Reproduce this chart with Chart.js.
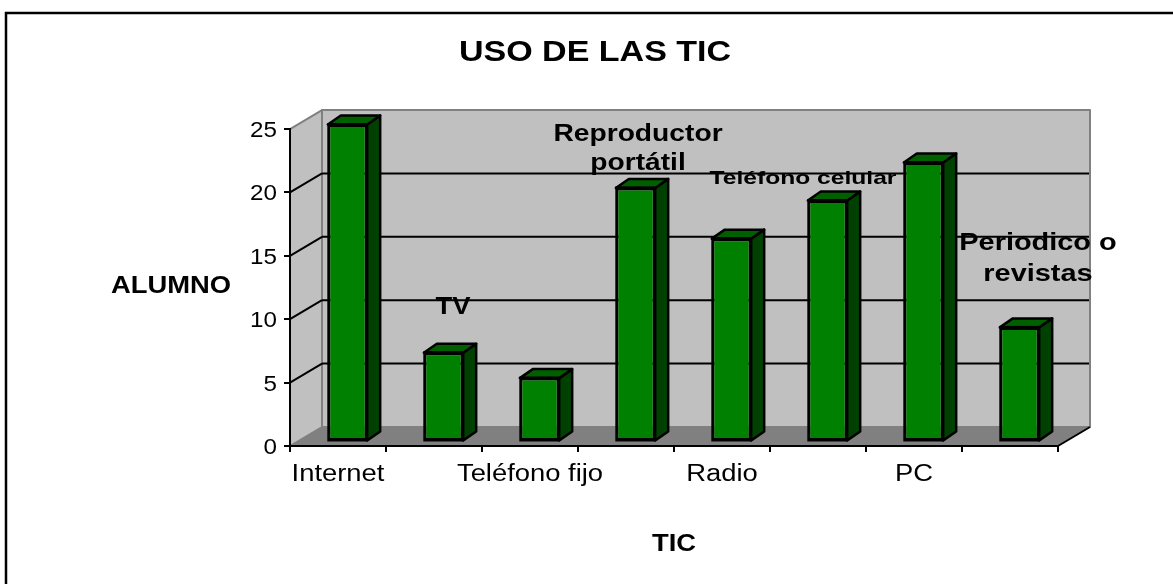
<!DOCTYPE html>
<html><head><meta charset="utf-8">
<style>html,body{margin:0;padding:0;background:#fff}#w{width:1173px;height:584px;position:relative}canvas{display:block}</style>
<script src="https://cdn.jsdelivr.net/npm/chart.js@4"></script>
</head><body><div id="w"><canvas id="c" width="1173" height="584"></canvas></div>
<script>
const categories=["Internet","TV","Teléfono fijo","Reproductor portátil","Radio","Teléfono celular","PC","Periodico o revistas"];
const values=[25,7,5,20,16,19,22,9];
const yTicks=[0,5,10,15,20,25];
const chartTitle="USO DE LAS TIC";
const yTitle="ALUMNO";
const xTitle="TIC";
const FONT='"Liberation Sans", Arial, sans-serif';
const DEPTH_X=32, DEPTH_Y=19, BAR_DX=9.5, BAR_DY=4.5, BAR_SIDE_X=13, BAR_SIDE_Y=9;
let stretch=1.19;

const canvas=document.getElementById('c');
const ctx0=canvas.getContext('2d');
// The reference's text is horizontally stretched; reproduce it for all text.
const rawFill=ctx0.fillText.bind(ctx0);
ctx0.fillText=function(t,x,y,m){
  const digits=/^\d+$/.test(String(t));
  ctx0.save();ctx0.translate(x,y+(digits?2:0));ctx0.scale(digits?1.1:stretch,1);rawFill(t,0,0);ctx0.restore();
};

function line(c,x1,y1,x2,y2){c.beginPath();c.moveTo(x1,y1);c.lineTo(x2,y2);c.stroke();}
function poly(c,pts,fill,stroke,w){c.beginPath();pts.forEach((p,i)=>i?c.lineTo(p[0],p[1]):c.moveTo(p[0],p[1]));c.closePath();c.fillStyle=fill;c.fill();if(stroke){c.strokeStyle=stroke;c.lineWidth=w;c.lineJoin='round';c.stroke();}}

const scene={id:'scene',
 beforeDraw(ch){
  const c=ch.ctx,a=ch.chartArea,y=ch.scales.y;
  c.save();
  c.fillStyle='#fff';c.fillRect(0,0,ch.width,ch.height);
  c.strokeStyle='#000';c.lineWidth=2.5;
  c.beginPath();c.moveTo(6,584);c.lineTo(6,13);c.lineTo(1173,13);c.stroke();
  const L=a.left,R=a.right,T=a.top,B=a.bottom;
  poly(c,[[L+DEPTH_X,T-DEPTH_Y],[R+DEPTH_X,T-DEPTH_Y],[R+DEPTH_X,B-DEPTH_Y],[L+DEPTH_X,B-DEPTH_Y]],'#c0c0c0','#808080',2);
  poly(c,[[L,T],[L+DEPTH_X,T-DEPTH_Y],[L+DEPTH_X,B-DEPTH_Y],[L,B]],'#c0c0c0','#808080',2);
  poly(c,[[L,B],[L+DEPTH_X,B-DEPTH_Y],[R+DEPTH_X,B-DEPTH_Y],[R,B]],'#808080',null,0);
  c.strokeStyle='#000';c.lineWidth=2;
  line(c,R,B,R+DEPTH_X,B-DEPTH_Y);
  yTicks.filter(v=>v>0&&v<25).forEach(v=>{
    const p=y.getPixelForValue(v);
    line(c,L,p,L+DEPTH_X,p-DEPTH_Y);line(c,L+DEPTH_X,p-DEPTH_Y,R+DEPTH_X-1,p-DEPTH_Y);
  });
  c.restore();
 },
 beforeDatasetsDraw(ch){
  const c=ch.ctx,m=ch.getDatasetMeta(0);
  c.save();
  m.data.forEach(b=>{
    const hw=b.width/2,l=b.x-hw+BAR_DX,r=b.x+hw+BAR_DX,t=b.y-BAR_DY,bt=b.base-BAR_DY;
    poly(c,[[r,t],[r+BAR_SIDE_X,t-BAR_SIDE_Y],[r+BAR_SIDE_X,bt-BAR_SIDE_Y],[r,bt]],'#004000','#000',2.5);
    poly(c,[[l,t],[l+BAR_SIDE_X,t-BAR_SIDE_Y],[r+BAR_SIDE_X,t-BAR_SIDE_Y],[r,t]],'#006000','#000',2.5);
  });
  c.restore();
  c.save();c.translate(BAR_DX,-BAR_DY);
 },
 afterDatasetsDraw(ch){
  ch.ctx.restore();
  const c=ch.ctx,x=ch.scales.x,y=ch.scales.y;
  c.save();
  c.strokeStyle='#000';c.lineWidth=2;
  ch.getDatasetMeta(0).data.forEach(b=>{
    c.strokeRect(b.x-b.width/2+BAR_DX+0.5,b.y-BAR_DY-0.5,b.width-1,b.base-b.y+0.5);
  });
  c.fillStyle='#000';c.textAlign='center';c.textBaseline='middle';
  const put=(t,px,py,size,s)=>{c.font='bold '+size+'px '+FONT;stretch=s||1.19;c.fillText(t,px,py+2);stretch=1.19;};
  put('TV',x.getPixelForValue(1)+19,y.getPixelForValue(11.1),23);
  put('Reproductor',x.getPixelForValue(3)+12,y.getPixelForValue(24.7),23.5,1.2);
  put('portátil',x.getPixelForValue(3)+12,y.getPixelForValue(22.4),23.5,1.2);
  put('Teléfono celular',x.getPixelForValue(5)-15,y.getPixelForValue(21.25),18.5,1.33);
  put('Periodico o',x.getPixelForValue(7)+28,y.getPixelForValue(16.1),23.5,1.23);
  put('revistas',x.getPixelForValue(7)+28,y.getPixelForValue(13.7),23.5,1.23);
  put(yTitle,171,285,23);
  c.restore();
 }
};

new Chart(canvas,{
 type:'bar',
 data:{labels:categories,datasets:[{label:'ALUMNO',data:values,backgroundColor:'#008000',borderColor:'#000',borderWidth:2.5,borderSkipped:false,barPercentage:0.41,categoryPercentage:1}]},
 options:{
  responsive:false,animation:false,devicePixelRatio:1,
  layout:{padding:{left:132,right:115,top:0,bottom:0}},
  plugins:{legend:{display:false},tooltip:{enabled:false},
   title:{display:true,text:chartTitle,color:'#000',font:{family:FONT,size:28.6,weight:'bold',lineHeight:1.2},padding:{top:36,bottom:58.7}}},
  scales:{
   x:{afterFit(s){s.height=138;},
      grid:{display:true,offset:true,drawOnChartArea:false,color:'#000',lineWidth:2,tickLength:6},
      border:{display:true,color:'#000',width:2},
      ticks:{autoSkip:false,maxRotation:0,minRotation:0,padding:9,color:'#000',font:{family:FONT,size:23},callback(v,i){return i%2===0?categories[i]:'';}},
      title:{display:true,text:xTitle,color:'#000',font:{family:FONT,size:23,weight:'bold'},padding:{top:12,bottom:26}}},
   y:{min:0,max:25,afterFit(s){s.width=158;},
      grid:{display:true,drawOnChartArea:false,color:'#000',lineWidth:2,tickLength:6},
      border:{display:true,color:'#000',width:2},
      ticks:{stepSize:5,padding:7,color:'#000',font:{family:FONT,size:22}}}
  }
 },
 plugins:[scene]
});
</script></body></html>
